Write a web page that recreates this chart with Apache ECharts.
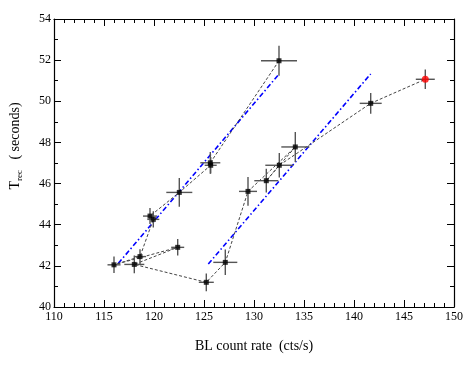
<!DOCTYPE html>
<html>
<head>
<meta charset="utf-8">
<script src="https://cdn.jsdelivr.net/npm/echarts@6/dist/echarts.min.js"></script>
<style>html,body{margin:0;padding:0;background:#fff}#c{width:473px;height:365px}</style>
</head>
<body>
<div id="c"></div>
<script>
// Data points (in path order of the dashed connecting line)
const ptX  = [132.5, 125.63, 125.67, 122.53, 119.6, 119.93, 118.6, 116.0, 122.37, 118.03, 125.23, 127.13, 129.4, 134.13, 131.23, 132.53, 141.67, 147.13];
const ptY  = [51.97, 47.01, 46.89, 45.57, 44.42, 44.26, 42.45, 42.05, 42.9, 42.07, 41.2, 42.17, 45.62, 47.78, 46.14, 46.89, 49.9, 51.07];
const errX = [1.8, 1.0, 0.6, 1.3, 0.7, 0.6, 0.6, 0.65, 0.65, 1.0, 0.75, 1.2, 0.9, 1.4, 1.2, 1.4, 1.1, 0.95];
const errY = [0.73, 0.53, 0.4, 0.7, 0.39, 0.4, 0.36, 0.4, 0.4, 0.43, 0.43, 0.62, 0.7, 0.73, 0.58, 0.6, 0.5, 0.47];
const highlightIndex = 17; // red point

// Linear fits (blue dash-dot)
const fitLeftX  = [116.43, 132.43];
const fitLeftY  = [42.12, 51.28];
const fitRightX = [125.43, 141.67];
const fitRightY = [42.09, 51.33];

// Axes
const xMin = 110, xMax = 150, xStep = 5;
const yMin = 40, yMax = 54, yStep = 2;

const FONT = 'Liberation Serif';

const pts = ptX.map((x, i) => [x, ptY[i], errX[i], errY[i]]);
const blackPts = pts.filter((_, i) => i !== highlightIndex).map(p => [p[0], p[1]]);
const redPts = [[ptX[highlightIndex], ptY[highlightIndex]]];
const pathPts = ptX.map((x, i) => [x, ptY[i]]);

const chart = echarts.init(document.getElementById('c'), null, {renderer: 'canvas'});

const tickCommon = {
  axisLine: {show: true, onZero: false, lineStyle: {color: '#000', width: 1.2}},
  axisTick: {show: true, inside: true, length: 7, lineStyle: {color: '#000', width: 1}},
  splitLine: {show: false}
};

const option = {
  animation: false,
  backgroundColor: '#fff',
  grid: {left: 54, right: 19, top: 19, bottom: 58, containLabel: false},
  xAxis: [
    Object.assign({
      type: 'value', min: xMin, max: xMax, interval: xStep, position: 'bottom',
      minorTick: {show: true, splitNumber: 5, length: 4, lineStyle: {color: '#000', width: 1}},
      axisLabel: {color: '#000', fontFamily: FONT, fontSize: 12, margin: 4},
      name: 'BL count rate  (cts/s)', nameLocation: 'middle', nameGap: 32,
      nameTextStyle: {color: '#000', fontFamily: FONT, fontSize: 14}
    }, tickCommon),
    Object.assign({
      type: 'value', min: xMin, max: xMax, interval: xStep, position: 'top',
      minorTick: {show: true, splitNumber: 5, length: 4, lineStyle: {color: '#000', width: 1}},
      axisLabel: {show: false}
    }, tickCommon)
  ],
  yAxis: [
    Object.assign({
      type: 'value', min: yMin, max: yMax, interval: yStep, position: 'left',
      minorTick: {show: true, splitNumber: 2, length: 4, lineStyle: {color: '#000', width: 1}},
      axisLabel: {color: '#000', fontFamily: FONT, fontSize: 12, margin: 3}
    }, tickCommon),
    Object.assign({
      type: 'value', min: yMin, max: yMax, interval: yStep, position: 'right',
      minorTick: {show: true, splitNumber: 2, length: 4, lineStyle: {color: '#000', width: 1}},
      axisLabel: {show: false}
    }, tickCommon)
  ],
  graphic: [{
    type: 'text', x: 16, y: 146, rotation: Math.PI / 2,
    style: {
      text: '{t|T}{s|rec}{t|   ( seconds)}',
      align: 'center', verticalAlign: 'middle',
      rich: {
        t: {fontFamily: FONT, fontSize: 14, fill: '#000', lineHeight: 16, verticalAlign: 'top'},
        s: {fontFamily: FONT, fontSize: 9, fill: '#000', lineHeight: 16, verticalAlign: 'bottom', padding: [6, 0, 0, 0]}
      }
    }
  }],
  series: [
    {
      type: 'line', data: fitLeftX.map((x, i) => [x, fitLeftY[i]]),
      showSymbol: false, symbol: 'none', z: 2,
      lineStyle: {color: '#0000ff', width: 1.6, type: [5, 2.5, 1.5, 2.5]}
    },
    {
      type: 'line', data: fitRightX.map((x, i) => [x, fitRightY[i]]),
      showSymbol: false, symbol: 'none', z: 2,
      lineStyle: {color: '#0000ff', width: 1.6, type: [5, 2.5, 1.5, 2.5]}
    },
    {
      type: 'line', data: pathPts, showSymbol: false, symbol: 'none', z: 3,
      lineStyle: {color: '#444', width: 1, type: [3, 2]}
    },
    {
      type: 'custom', z: 4,
      data: pts,
      renderItem: function (params, api) {
        const x = api.value(0), y = api.value(1), ex = api.value(2), ey = api.value(3);
        const l = api.coord([x - ex, y]), r = api.coord([x + ex, y]);
        const b = api.coord([x, y - ey]), t = api.coord([x, y + ey]);
        const st = {stroke: '#555', lineWidth: 1.4};
        return {
          type: 'group',
          children: [
            {type: 'line', shape: {x1: l[0], y1: l[1], x2: r[0], y2: r[1]}, style: st},
            {type: 'line', shape: {x1: b[0], y1: b[1], x2: t[0], y2: t[1]}, style: st}
          ]
        };
      }
    },
    {
      type: 'scatter', data: blackPts, symbol: 'rect', symbolSize: 5, z: 5,
      itemStyle: {color: '#000'}
    },
    {
      type: 'scatter', data: redPts, symbol: 'circle', symbolSize: 7, z: 5,
      itemStyle: {color: '#ff0000'}
    }
  ]
};
chart.setOption(option);
</script>
</body>
</html>
